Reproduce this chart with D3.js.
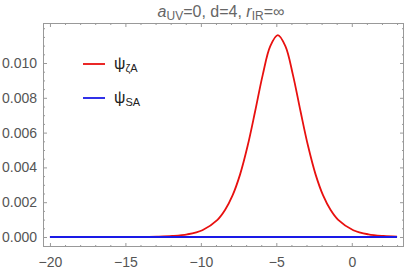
<!DOCTYPE html>
<html>
<head>
<meta charset="utf-8">
<script src="https://cdn.jsdelivr.net/npm/d3@7"></script>
<style>
  body { margin: 0; background: #fff; }
  svg { display: block; font-family: "Liberation Sans", Arial, sans-serif; }
</style>
</head>
<body>
<svg id="chart" width="407" height="271"></svg>
<script>
var width = 407;
var height = 271;
var frameColor = "#999999";
var textColor = "#555555";

// psi_zetaA
var xZeta = [-20, -17, -15, -13.9, -12.9, -11.9, -10.9, -9.9, -8.9, -8.4, -7.9, -7.4, -6.9, -6.4, -5.9, -5.4, -4.9,
             -4.4, -3.9, -3.4, -2.9, -2.4, -1.9, -1.4, -0.9, 0.1, 1.1, 2.1, 3];
var yZeta = [0, 0, 0.000001, 0.0000088, 0.0000228, 0.000059, 0.000152, 0.00039, 0.000983, 0.00155, 0.00239, 0.0036, 0.00524, 0.00724, 0.00932, 0.01097, 0.0116,
             0.01097, 0.00932, 0.00724, 0.00524, 0.0036, 0.00239, 0.00155, 0.000983, 0.00039, 0.000152, 0.000059, 0.000025];
// psi_SA stays at zero
var xSA = [-20, -15, -10, -5, 0, 3];
var ySA = [0, 0, 0, 0, 0, 0];

var xTicks = [-20, -15, -10, -5, 0];
var yTicks = [0, 0.002, 0.004, 0.006, 0.008, 0.010];

var margin = { left: 43, right: 3, top: 23, bottom: 24 };

var svg = d3.select("#chart");

var x = d3.scaleLinear().domain([-20.46, 3.46]).range([margin.left, width - margin.right]);
var y = d3.scaleLinear().domain([-0.000575, 0.0123]).range([height - margin.bottom, margin.top]);

var minorX = d3.range(-20, 4, 1).filter(function(v) { return xTicks.indexOf(v) < 0; });
var minorY = d3.range(0, 0.0121, 0.0005).filter(function(v) {
    return yTicks.every(function(t) { return Math.abs(t - v) > 1e-9; });
});

function styleAxis(g) {
    g.select(".domain").remove();
    g.selectAll("line").attr("stroke", frameColor);
    g.selectAll("text").attr("fill", textColor).style("font-size", "14px");
}

// bottom
svg.append("g").attr("transform", "translate(0," + y.range()[0] + ")")
    .call(d3.axisBottom(x).tickValues(xTicks).tickSizeInner(-4).tickPadding(10)
        .tickFormat(function(d) { return d < 0 ? "\u2212" + Math.abs(d) : d; }))
    .call(styleAxis);
svg.append("g").attr("transform", "translate(0," + y.range()[0] + ")")
    .call(d3.axisBottom(x).tickValues(minorX).tickSizeInner(-2).tickFormat(""))
    .call(styleAxis);
// top
svg.append("g").attr("transform", "translate(0," + margin.top + ")")
    .call(d3.axisTop(x).tickValues(xTicks).tickSizeInner(-4).tickFormat(""))
    .call(styleAxis);
svg.append("g").attr("transform", "translate(0," + margin.top + ")")
    .call(d3.axisTop(x).tickValues(minorX).tickSizeInner(-2).tickFormat(""))
    .call(styleAxis);
// left
svg.append("g").attr("transform", "translate(" + margin.left + ",0)")
    .call(d3.axisLeft(y).tickValues(yTicks).tickSizeInner(-4).tickPadding(6).tickFormat(d3.format(".3f")))
    .call(styleAxis);
svg.append("g").attr("transform", "translate(" + margin.left + ",0)")
    .call(d3.axisLeft(y).tickValues(minorY).tickSizeInner(-2).tickFormat(""))
    .call(styleAxis);
// right
svg.append("g").attr("transform", "translate(" + (width - margin.right) + ",0)")
    .call(d3.axisRight(y).tickValues(yTicks).tickSizeInner(-4).tickFormat(""))
    .call(styleAxis);
svg.append("g").attr("transform", "translate(" + (width - margin.right) + ",0)")
    .call(d3.axisRight(y).tickValues(minorY).tickSizeInner(-2).tickFormat(""))
    .call(styleAxis);

// frame
svg.append("rect")
    .attr("x", x.range()[0] + 0.5).attr("y", y.range()[1] + 0.5)
    .attr("width", x.range()[1] - x.range()[0] - 1)
    .attr("height", y.range()[0] - y.range()[1] - 1)
    .attr("fill", "none").attr("stroke", frameColor).attr("stroke-width", 1);

var line = d3.line()
    .x(function(d) { return x(d[0]); })
    .y(function(d) { return y(d[1]); })
    .curve(d3.curveCatmullRom);

svg.append("path")
    .datum(d3.zip(xZeta, yZeta))
    .attr("d", line)
    .attr("fill", "none").attr("stroke", "#e8100f").attr("stroke-width", 1.8);

svg.append("path")
    .datum(d3.zip(xSA, ySA))
    .attr("d", line)
    .attr("fill", "none").attr("stroke", "#1a1ae6").attr("stroke-width", 1.8);

// title
var title = svg.append("text")
    .attr("x", 221).attr("y", 17)
    .attr("text-anchor", "middle")
    .attr("fill", "#666666")
    .style("font-size", "16px");
title.append("tspan").attr("font-style", "italic").text("a");
title.append("tspan").attr("dy", 3).style("font-size", "12px").text("UV");
title.append("tspan").attr("dy", -3).text("=0, d=4, ");
title.append("tspan").attr("font-style", "italic").text("r");
title.append("tspan").attr("dy", 3).style("font-size", "12px").text("IR");
title.append("tspan").attr("dy", -3).text("=\u221e");

// legend
var legend = [
    { color: "#e8100f", sub: "\u03b6A", y: 64 },
    { color: "#1a1ae6", sub: "SA", y: 98 }
];
legend.forEach(function(item) {
    svg.append("line")
        .attr("x1", 83).attr("x2", 105)
        .attr("y1", item.y).attr("y2", item.y)
        .attr("stroke", item.color).attr("stroke-width", 1.8);
    var t = svg.append("text")
        .attr("x", 114).attr("y", item.y + 5)
        .attr("fill", "#222222")
        .style("font-size", "16px");
    t.append("tspan").text("\u03c8");
    t.append("tspan").attr("dy", 3).style("font-size", "11px").text(item.sub);
});
</script>
</body>
</html>
